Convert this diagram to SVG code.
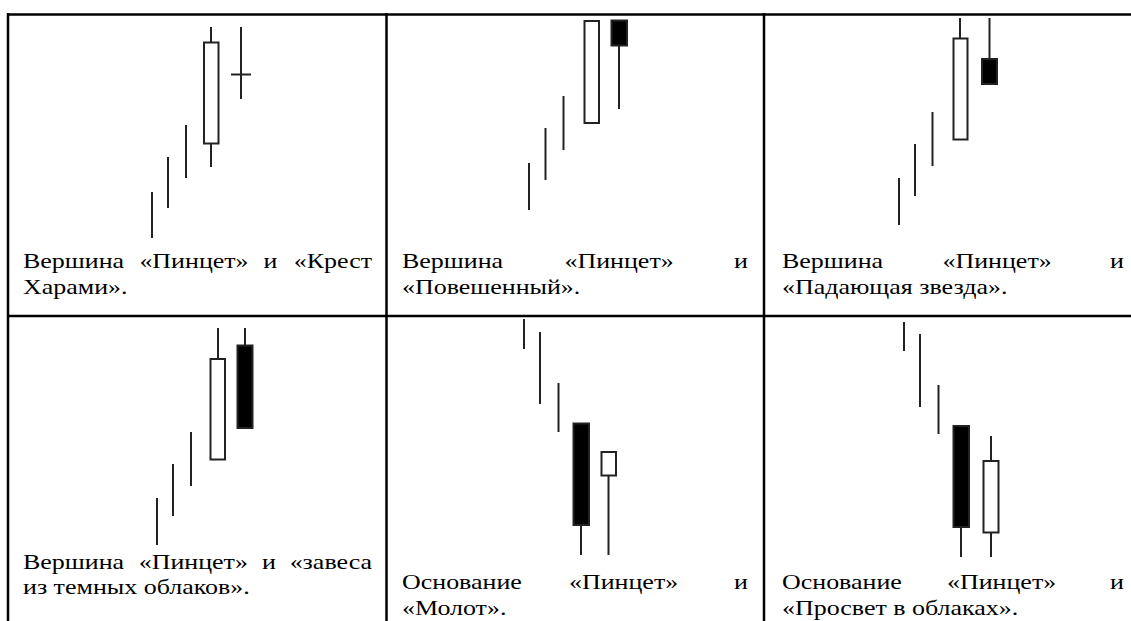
<svg xmlns="http://www.w3.org/2000/svg" width="1131" height="621" viewBox="0 0 1131 621">
<style>
.grid{stroke:#000;stroke-width:2.5;fill:none}
.w{stroke:#222;stroke-width:2;fill:none}
.wb{stroke:#222;stroke-width:2;fill:#fff}
.bb{stroke:#222;stroke-width:2;fill:#000}
.e{text-anchor:end}
</style>
<rect width="1131" height="621" fill="#fff"/>
<g id="table" class="grid">
<line x1="8" y1="14.5" x2="1131" y2="14.5"/>
<line x1="8" y1="13" x2="8" y2="621"/>
<line x1="386.5" y1="13" x2="386.5" y2="621"/>
<line x1="764" y1="13" x2="764" y2="621"/>
<line x1="8" y1="316" x2="1131" y2="316"/>
</g>
<g font-family="Liberation Serif" font-size="22" fill="#000">
<g id="cell1">
<line class="w" x1="152" y1="192" x2="152" y2="238"/>
<line class="w" x1="168" y1="157" x2="168" y2="208"/>
<line class="w" x1="186" y1="125" x2="186" y2="178"/>
<line class="w" x1="211" y1="27" x2="211" y2="167"/>
<rect class="wb" x="204" y="42.5" width="14.5" height="101"/>
<line class="w" x1="241" y1="27" x2="241" y2="99"/>
<line class="w" x1="231" y1="74.5" x2="251" y2="74.5"/>
<text transform="translate(23 268) scale(1.18 1)">Вершина</text>
<text transform="translate(139.4 268) scale(1.18 1)">«Пинцет»</text>
<text transform="translate(263.4 268) scale(1.18 1)">и</text>
<text class="e" transform="translate(372 268) scale(1.18 1)">«Крест</text>
<text transform="translate(23 293.5) scale(1.18 1)">Харами».</text>
</g>
<g id="cell2">
<line class="w" x1="529" y1="163" x2="529" y2="210"/>
<line class="w" x1="545.5" y1="128" x2="545.5" y2="180"/>
<line class="w" x1="563.5" y1="96" x2="563.5" y2="150"/>
<rect class="wb" x="584.5" y="21" width="14.5" height="102"/>
<line class="w" x1="619" y1="45" x2="619" y2="109"/>
<rect class="bb" x="611.5" y="20.5" width="15.5" height="25"/>
<text transform="translate(402 268) scale(1.18 1)">Вершина</text>
<text transform="translate(564.5 268) scale(1.18 1)">«Пинцет»</text>
<text class="e" transform="translate(748 268) scale(1.18 1)">и</text>
<text transform="translate(402 293.5) scale(1.18 1)">«Повешенный».</text>
</g>
<g id="cell3">
<line class="w" x1="899" y1="178" x2="899" y2="225"/>
<line class="w" x1="915" y1="144" x2="915" y2="196"/>
<line class="w" x1="932.5" y1="112" x2="932.5" y2="166"/>
<line class="w" x1="960" y1="18" x2="960" y2="39"/>
<rect class="wb" x="953.5" y="38.5" width="14" height="101"/>
<line class="w" x1="989.5" y1="18" x2="989.5" y2="59"/>
<rect class="bb" x="982" y="59" width="15" height="25"/>
<text transform="translate(782 268) scale(1.18 1)">Вершина</text>
<text transform="translate(942.5 268) scale(1.18 1)">«Пинцет»</text>
<text class="e" transform="translate(1124 268) scale(1.18 1)">и</text>
<text transform="translate(782 293.5) scale(1.18 1)">«Падающая звезда».</text>
</g>
<g id="cell4">
<line class="w" x1="157" y1="498" x2="157" y2="545"/>
<line class="w" x1="173" y1="464" x2="173" y2="516"/>
<line class="w" x1="191" y1="432" x2="191" y2="486"/>
<line class="w" x1="218" y1="328" x2="218" y2="359"/>
<rect class="wb" x="210.5" y="359" width="14.5" height="100.5"/>
<line class="w" x1="245" y1="328" x2="245" y2="345"/>
<rect class="bb" x="237.5" y="345.5" width="15" height="82.5"/>
<text transform="translate(23 568.5) scale(1.18 1)">Вершина</text>
<text transform="translate(138.7 568.5) scale(1.18 1)">«Пинцет»</text>
<text transform="translate(262 568.5) scale(1.18 1)">и</text>
<text class="e" transform="translate(372 568.5) scale(1.18 1)">«завеса</text>
<text transform="translate(23 594) scale(1.18 1)">из темных облаков».</text>
</g>
<g id="cell5">
<line class="w" x1="524" y1="319" x2="524" y2="349"/>
<line class="w" x1="540" y1="332" x2="540" y2="404"/>
<line class="w" x1="558.5" y1="383" x2="558.5" y2="432"/>
<line class="w" x1="581" y1="524" x2="581" y2="555"/>
<rect class="bb" x="573.5" y="423.5" width="15.5" height="101.5"/>
<line class="w" x1="608.5" y1="475" x2="608.5" y2="555"/>
<rect class="wb" x="601.5" y="452" width="14.5" height="23.5"/>
<text transform="translate(402 588.5) scale(1.18 1)">Основание</text>
<text transform="translate(569 588.5) scale(1.18 1)">«Пинцет»</text>
<text class="e" transform="translate(748 588.5) scale(1.18 1)">и</text>
<text transform="translate(402 614.5) scale(1.18 1)">«Молот».</text>
</g>
<g id="cell6">
<line class="w" x1="904" y1="322" x2="904" y2="351"/>
<line class="w" x1="920" y1="334" x2="920" y2="407"/>
<line class="w" x1="938.5" y1="385" x2="938.5" y2="434"/>
<line class="w" x1="961" y1="527" x2="961" y2="557"/>
<rect class="bb" x="953.5" y="426" width="15.5" height="101"/>
<line class="w" x1="991" y1="436" x2="991" y2="557"/>
<rect class="wb" x="983.5" y="461" width="15" height="71.5"/>
<text transform="translate(782 588.5) scale(1.18 1)">Основание</text>
<text transform="translate(947 588.5) scale(1.18 1)">«Пинцет»</text>
<text class="e" transform="translate(1124 588.5) scale(1.18 1)">и</text>
<text transform="translate(782 614.5) scale(1.18 1)">«Просвет в облаках».</text>
</g>
</g>
</svg>
